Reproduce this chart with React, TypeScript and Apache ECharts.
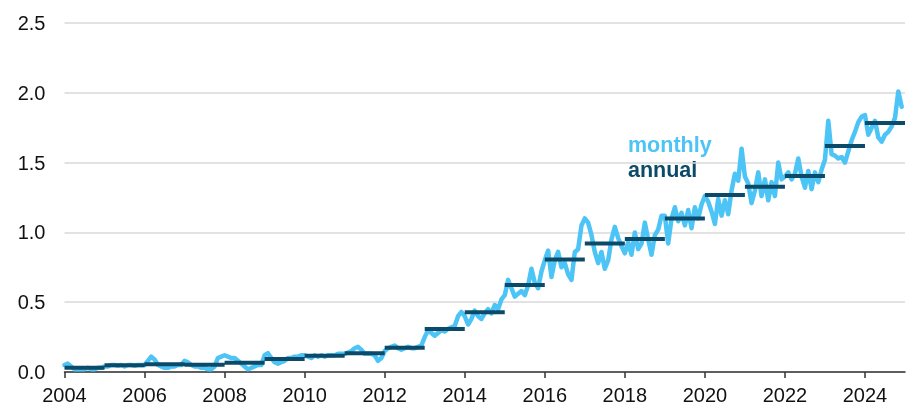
import React, { useEffect, useRef } from "react";
import * as echarts from "echarts";

const years = [2004, 2005, 2006, 2007, 2008, 2009, 2010, 2011, 2012, 2013, 2014, 2015, 2016, 2017, 2018, 2019, 2020, 2021, 2022, 2023, 2024];

const annual = [0.03, 0.048, 0.055, 0.052, 0.067, 0.093, 0.117, 0.134, 0.174, 0.308, 0.428, 0.623, 0.805, 0.92, 0.953, 1.1, 1.268, 1.327, 1.404, 1.619, 1.784];

// monthly values, Jan..Dec of each year 2004..2024
const monthly = [
  0.05, 0.06, 0.04, 0.02, 0.02, 0.02, 0.02, 0.03, 0.02, 0.02, 0.03, 0.03,
  0.04, 0.04, 0.05, 0.05, 0.045, 0.05, 0.04, 0.05, 0.05, 0.045, 0.05, 0.05,
  0.05, 0.08, 0.11, 0.09, 0.05, 0.04, 0.03, 0.03, 0.04, 0.04, 0.05, 0.05,
  0.08, 0.07, 0.05, 0.04, 0.04, 0.03, 0.03, 0.02, 0.02, 0.04, 0.1, 0.11,
  0.12, 0.11, 0.1, 0.1, 0.08, 0.06, 0.04, 0.02, 0.03, 0.04, 0.05, 0.05,
  0.12, 0.135, 0.1, 0.07, 0.06, 0.07, 0.08, 0.1, 0.1, 0.11, 0.11, 0.12,
  0.12, 0.11, 0.1, 0.12, 0.11, 0.12, 0.11, 0.12, 0.12, 0.12, 0.13, 0.13,
  0.13, 0.14, 0.15, 0.17, 0.18, 0.16, 0.13, 0.13, 0.13, 0.12, 0.08, 0.1,
  0.15, 0.17, 0.18, 0.19, 0.17, 0.16, 0.17, 0.18, 0.17, 0.17, 0.18, 0.19,
  0.25, 0.3, 0.28, 0.26, 0.28, 0.3, 0.29, 0.31, 0.32, 0.33, 0.4, 0.43,
  0.4, 0.34, 0.38, 0.44, 0.4, 0.38, 0.42, 0.45, 0.42, 0.48, 0.45, 0.52,
  0.55, 0.66, 0.6, 0.54, 0.56, 0.58, 0.55, 0.62, 0.74, 0.64, 0.6, 0.72,
  0.8, 0.87, 0.68, 0.8, 0.86, 0.75, 0.78, 0.7, 0.66, 0.86, 0.88, 1.05,
  1.1, 1.07, 0.98, 0.86, 0.78, 0.86, 0.74, 0.8, 0.95, 1.04, 0.96, 0.9,
  0.85, 0.93, 0.84, 1.0, 0.88, 0.92, 1.07, 0.95, 0.84, 0.98, 1.02, 1.12,
  1.12, 0.92, 1.1, 1.18, 1.08, 1.14, 1.05, 1.16, 1.03, 1.18, 1.1, 1.2,
  1.26, 1.22, 1.15, 1.06, 1.24, 1.12, 1.23, 1.13, 1.3, 1.42, 1.37, 1.6,
  1.4, 1.35, 1.21, 1.3, 1.43, 1.26, 1.38, 1.23, 1.36, 1.26, 1.5, 1.38,
  1.4, 1.43, 1.38, 1.42, 1.53, 1.4, 1.32, 1.44, 1.31, 1.43, 1.36, 1.45,
  1.52, 1.8, 1.56, 1.55, 1.53, 1.54, 1.5, 1.58, 1.66, 1.72, 1.79, 1.83,
  1.84, 1.7, 1.75, 1.8, 1.68, 1.65, 1.7, 1.72, 1.76, 1.82, 2.01, 1.9,
];

const xTicks = [2004, 2006, 2008, 2010, 2012, 2014, 2016, 2018, 2020, 2022, 2024];
const yTicks = [0, 0.5, 1.0, 1.5, 2.0, 2.5];

const LIGHT = "#4cc4f6";
const DARK = "#0c4a6a";
const FONT = "'Liberation Sans', Arial, sans-serif";

export default function App() {
  const ref = useRef<HTMLDivElement>(null);
  useEffect(() => {
    if (!ref.current) return;
    const chart = echarts.init(ref.current, undefined, { renderer: "svg" });
    const monthlyData = monthly.map((v, i) => [years[0] + i / 12, v]);
    const annualData: any[] = [];
    years.forEach((y, i) => {
      annualData.push([y, annual[i]]);
      annualData.push([y + 1, annual[i]]);
      annualData.push([y + 1, "-"]);
    });
    chart.setOption({
      animation: false,
      grid: { left: 64.5, right: 4, top: 23, bottom: 33, containLabel: false },
      xAxis: {
        type: "value",
        min: 2004,
        max: 2025,
        interval: 2,
        splitLine: { show: false },
        axisLine: { show: true, lineStyle: { color: "#333", width: 1.5 } },
        axisTick: { show: true, length: 6, customValues: xTicks, lineStyle: { color: "#333", width: 1.5 } },
        axisLabel: {
          customValues: xTicks,
          formatter: (v: number) => String(v),
          color: "#111",
          fontSize: 20,
          fontFamily: FONT,
          margin: 13,
        },
      },
      yAxis: {
        type: "value",
        min: yTicks[0],
        max: yTicks[yTicks.length - 1],
        interval: 0.5,
        axisLine: { show: false },
        axisTick: { show: false },
        splitLine: { show: true, lineStyle: { color: "#d9d9d9", width: 1.5 } },
        axisLabel: {
          formatter: (v: number) => v.toFixed(1),
          color: "#111",
          fontSize: 20,
          fontFamily: FONT,
          margin: 19,
        },
      },
      series: [
        {
          type: "line",
          name: "monthly",
          data: monthlyData,
          showSymbol: false,
          symbol: "none",
          lineStyle: { color: LIGHT, width: 4.5, join: "round", cap: "round" },
          z: 2,
        },
        {
          type: "line",
          name: "annual",
          data: annualData,
          showSymbol: false,
          symbol: "none",
          connectNulls: false,
          lineStyle: { color: DARK, width: 4 },
          z: 3,
        },
      ],
      graphic: [
        {
          type: "text",
          left: 628,
          top: 134,
          style: { text: "monthly", fill: LIGHT, font: `bold 21.5px ${FONT}` },
        },
        {
          type: "text",
          left: 628,
          top: 159,
          style: { text: "annual", fill: DARK, font: `bold 21.5px ${FONT}` },
        },
      ],
    });
    return () => chart.dispose();
  }, []);
  return (
    <div
      ref={ref}
      style={{ position: "fixed", left: 0, top: 0, width: 909, height: 405 }}
    />
  );
}
